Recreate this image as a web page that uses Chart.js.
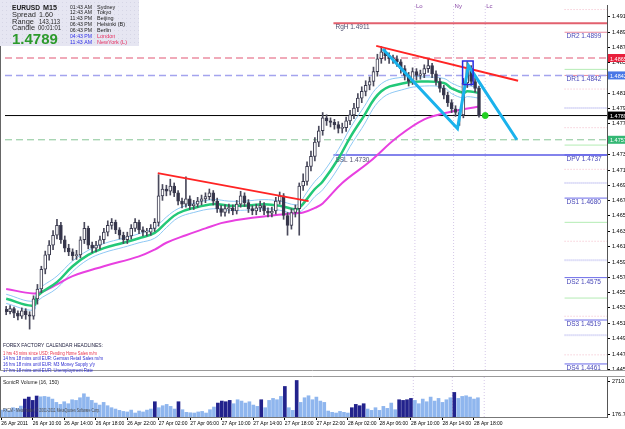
<!DOCTYPE html>
<html>
<head>
<meta charset="utf-8">
<script src="https://cdn.jsdelivr.net/npm/chart.js@4"></script>
<style>
html, body { margin: 0; padding: 0; background: #fff; overflow: hidden; }
#wrap { position: relative; width: 625px; height: 429px; }
canvas { position: absolute; left: 0; }
#main { top: 0; }
#vol { top: 375px; }
</style>
</head>
<body>
<div id="wrap">
  <canvas id="main" width="625" height="375"></canvas>
  <canvas id="vol" width="625" height="54"></canvas>
</div>
<script>
// EURUSD M15, one candle per 30 min slot
let opens = [1.4533,1.4530,1.4534,1.4528,1.4524,1.4531,1.4526,1.4524,1.4547,1.4560,
1.4586,1.4605,1.4618,1.4631,1.4644,1.4625,1.4614,1.4609,1.4604,1.4605,
1.4625,1.4640,1.4618,1.4614,1.4618,1.4625,1.4635,1.4644,1.4648,1.4638,
1.4631,1.4625,1.4630,1.4640,1.4648,1.4638,1.4635,1.4635,1.4640,1.4648,
1.4683,1.4692,1.4689,1.4696,1.4687,1.4676,1.4672,1.4679,1.4670,1.4672,
1.4676,1.4679,1.4682,1.4687,1.4676,1.4666,1.4661,1.4666,1.4667,1.4663,
1.4672,1.4683,1.4674,1.4666,1.4663,1.4667,1.4670,1.4663,1.4660,1.4663,
1.4676,1.4683,1.4657,1.4644,1.4661,1.4666,1.4696,1.4702,1.4722,1.4735,
1.4754,1.4769,1.4786,1.4782,1.4780,1.4777,1.4772,1.4773,1.4782,1.4790,
1.4799,1.4812,1.4821,1.4829,1.4834,1.4847,1.4864,1.4873,1.4868,1.4864,
1.4864,1.4860,1.4851,1.4842,1.4834,1.4847,1.4842,1.4844,1.4851,1.4855,
1.4844,1.4834,1.4825,1.4816,1.4806,1.4798,1.4793,1.4790,1.4832,1.4851,
1.4834,1.4825];
let closes = [1.4530,1.4534,1.4528,1.4524,1.4531,1.4526,1.4524,1.4547,1.4560,1.4586,
1.4605,1.4618,1.4631,1.4644,1.4625,1.4614,1.4609,1.4604,1.4605,1.4625,
1.4640,1.4618,1.4614,1.4618,1.4625,1.4635,1.4644,1.4648,1.4638,1.4631,
1.4625,1.4630,1.4640,1.4648,1.4638,1.4635,1.4635,1.4640,1.4648,1.4683,
1.4692,1.4689,1.4696,1.4687,1.4676,1.4672,1.4679,1.4670,1.4672,1.4676,
1.4679,1.4682,1.4687,1.4676,1.4666,1.4661,1.4666,1.4667,1.4663,1.4672,
1.4683,1.4674,1.4666,1.4663,1.4667,1.4670,1.4663,1.4660,1.4663,1.4676,
1.4683,1.4657,1.4644,1.4661,1.4666,1.4696,1.4702,1.4722,1.4735,1.4754,
1.4769,1.4786,1.4782,1.4780,1.4777,1.4772,1.4773,1.4782,1.4790,1.4799,
1.4812,1.4821,1.4829,1.4834,1.4847,1.4864,1.4873,1.4868,1.4864,1.4864,
1.4860,1.4851,1.4842,1.4834,1.4847,1.4842,1.4844,1.4851,1.4855,1.4844,
1.4834,1.4825,1.4816,1.4806,1.4798,1.4793,1.4790,1.4832,1.4851,1.4834,
1.4825,1.4789];
let highs = [1.4537,1.4538,1.4536,1.4531,1.4535,1.4534,1.4530,1.4551,1.4566,1.4590,
1.4610,1.4624,1.4637,1.4652,1.4648,1.4630,1.4619,1.4613,1.4611,1.4629,
1.4648,1.4643,1.4622,1.4623,1.4630,1.4640,1.4650,1.4653,1.4651,1.4641,
1.4635,1.4635,1.4645,1.4653,1.4651,1.4642,1.4640,1.4645,1.4653,1.4711,
1.4698,1.4697,1.4705,1.4700,1.4690,1.4680,1.4708,1.4683,1.4677,1.4681,
1.4684,1.4687,1.4692,1.4690,1.4680,1.4670,1.4671,1.4672,1.4671,1.4677,
1.4689,1.4687,1.4678,1.4670,1.4672,1.4676,1.4674,1.4667,1.4668,1.4681,
1.4688,1.4686,1.4661,1.4666,1.4671,1.4700,1.4712,1.4728,1.4742,1.4760,
1.4775,1.4793,1.4790,1.4786,1.4784,1.4781,1.4779,1.4787,1.4796,1.4805,
1.4818,1.4827,1.4835,1.4840,1.4853,1.4870,1.4880,1.4876,1.4872,1.4869,
1.4868,1.4863,1.4855,1.4846,1.4852,1.4851,1.4849,1.4856,1.4864,1.4858,
1.4848,1.4838,1.4829,1.4820,1.4810,1.4802,1.4797,1.4838,1.4860,1.4855,
1.4839,1.4828];
let lows = [1.4526,1.4527,1.4522,1.4519,1.4521,1.4520,1.4507,1.4520,1.4540,1.4555,
1.4580,1.4598,1.4612,1.4626,1.4620,1.4609,1.4604,1.4598,1.4599,1.4601,
1.4620,1.4613,1.4608,1.4609,1.4613,1.4620,1.4630,1.4639,1.4633,1.4626,
1.4620,1.4620,1.4626,1.4636,1.4633,1.4630,1.4630,1.4631,1.4636,1.4643,
1.4677,1.4683,1.4684,1.4682,1.4671,1.4667,1.4668,1.4665,1.4665,1.4668,
1.4671,1.4674,1.4678,1.4671,1.4661,1.4656,1.4656,1.4660,1.4658,1.4659,
1.4668,1.4669,1.4661,1.4658,1.4658,1.4662,1.4658,1.4655,1.4655,1.4659,
1.4672,1.4652,1.4631,1.4639,1.4655,1.4631,1.4690,1.4697,1.4716,1.4729,
1.4748,1.4763,1.4776,1.4774,1.4771,1.4766,1.4766,1.4768,1.4777,1.4785,
1.4794,1.4806,1.4815,1.4823,1.4828,1.4841,1.4858,1.4862,1.4858,1.4858,
1.4854,1.4845,1.4836,1.4828,1.4830,1.4836,1.4837,1.4839,1.4846,1.4839,
1.4829,1.4820,1.4811,1.4801,1.4793,1.4788,1.4776,1.4786,1.4826,1.4829,
1.4820,1.4787];
let volumes = [520,610,480,700,650,820,1350,1500,1250,1580,
1520,1550,1500,1350,1100,950,1150,1000,1300,1250,
1450,1750,1500,1250,1050,900,1100,850,700,600,
500,420,380,520,300,450,380,520,600,1150,
700,850,950,800,600,1150,550,350,320,300,
380,420,300,550,750,1050,1200,1150,1250,1000,
1300,1200,1050,1150,900,800,1300,700,1250,1400,
1300,1550,2300,700,500,2750,1100,1450,1600,1300,
1500,1200,1100,450,350,300,420,350,300,700,
950,850,1000,600,500,700,500,800,650,1050,
550,1300,1250,1300,1400,1250,1000,1350,1150,1500,
1200,1400,1100,1300,1450,1850,1400,1550,1600,1500,
1350,1450];
let climaxBars = [6,7,8,9,39,45,55,56,57,58,66,72,75,89,90,91,92,101,102,103,104,115];

// SonicR dragon (EMA 34) with its band, and the slow EMA
let dragonIdx = [0,7,8,13,17,21,25,30,34,38,41,44,48,53,57,61,66,70,74,75,77,79,81,85,88,91,96,102,107,112,114,117,118,121];
let dragonMid = [1.4547,1.4538,1.4551,1.4569,1.4590,1.4605,1.4614,1.4621,1.4627,1.4634,1.4648,1.4660,1.4667,1.4672,1.4670,1.4670,1.4672,1.4670,1.4665,1.4667,1.4679,1.4692,1.4702,1.4732,1.4760,1.4784,1.4821,1.4832,1.4834,1.4832,1.4825,1.4819,1.4821,1.4819];
let dragonHigh = [1.4553,1.4544,1.4558,1.4577,1.4597,1.4611,1.4620,1.4627,1.4633,1.4641,1.4655,1.4666,1.4673,1.4678,1.4676,1.4676,1.4678,1.4676,1.4671,1.4673,1.4688,1.4702,1.4713,1.4744,1.4772,1.4796,1.4831,1.4840,1.4840,1.4838,1.4832,1.4826,1.4828,1.4826];
let dragonLow = [1.4541,1.4532,1.4544,1.4561,1.4583,1.4599,1.4608,1.4615,1.4621,1.4627,1.4641,1.4654,1.4661,1.4666,1.4664,1.4664,1.4666,1.4664,1.4659,1.4661,1.4670,1.4682,1.4691,1.4720,1.4748,1.4772,1.4811,1.4824,1.4828,1.4826,1.4818,1.4812,1.4814,1.4812];
let slowIdx = [0,7,9,13,17,25,34,38,41,46,51,55,59,63,68,74,76,79,81,86,93,100,107,113,121];
let slowEma = [1.4560,1.4554,1.4556,1.4566,1.4577,1.4590,1.4603,1.4612,1.4621,1.4631,1.4640,1.4647,1.4651,1.4654,1.4657,1.4660,1.4661,1.4667,1.4673,1.4700,1.4728,1.4760,1.4784,1.4793,1.4801];

// drawn objects
let trend1 = [[38.8, 1.4713], [77.4, 1.4676]];
let trend2 = [[94.7, 1.4881], [131.0, 1.4835]];
let zigzag = [[96.4, 1.4877], [115.5, 1.4772], [118.3, 1.4855], [130.7, 1.4757]];
let boxIdx = [116.8, 119.5];
let boxPrice = [1.4830, 1.4861];

// levels
let bidPrice = 1.4789;
let dashedLevels = [1.4865, 1.4842, 1.4757];
let r1h = 1.4911;
let ssl = 1.4730;
let pivotNames = ['DR2', 'DR1', 'DPV', 'DS1', 'DS2', 'DS3', 'DS4'];
let pivotValues = [1.4899, 1.4842, 1.4737, 1.4680, 1.4575, 1.4519, 1.4461];
let midPink = [1.4929, 1.4824, 1.4773, 1.4718, 1.4623, 1.4524, 1.4473];
let midLav = [1.4799, 1.4700, 1.4598, 1.4499];
let midGreen = [1.4850, 1.4750, 1.4648, 1.4548];
let sessionIdx = [104.6, 114.5, 122.6];
let sessionNames = ['Lo', 'Ny', 'Lc'];

// axes
let yTicks = [1.49195,1.48990,1.48795,1.48590,1.48390,1.48185,1.47980,1.47780,1.47575,1.47370,1.47170,1.46970,
  1.46765,1.46565,1.46360,1.46160,1.45955,1.45755,1.45550,1.45350,1.45145,1.44945,1.44740,1.44540];
let xTickIdx = [0,8,16,24,32,40,48,56,64,72,80,88,96,104,112,120];
let xTickLabels = ['26 Apr 2011','26 Apr 10:00','26 Apr 14:00','26 Apr 18:00','26 Apr 22:00','27 Apr 02:00',
  '27 Apr 06:00','27 Apr 10:00','27 Apr 14:00','27 Apr 18:00','27 Apr 22:00','28 Apr 02:00','28 Apr 06:00',
  '28 Apr 10:00','28 Apr 14:00','28 Apr 18:00'];
let volTicks = [176.7, 2710.7];

let headlines = [
  ['1 hrs 43 mins since USD: Pending Home Sales m/m', '#e8304a'],
  ['14 hrs 18 mins until EUR: German Retail Sales m/m', '#2a2ad0'],
  ['16 hrs 18 mins until EUR: M3 Money Supply y/y', '#2a2ad0'],
  ['17 hrs 18 mins until EUR: Unemployment Rate', '#2a2ad0']
];
let clocks = [
  ['01:43 AM', 'Sydney'], ['12:43 AM', 'Tokyo'], ['11:43 PM', 'Beijing'], ['06:43 PM', 'Helsinki (B)'],
  ['06:43 PM', 'Berlin'], ['04:43 PM', 'London'], ['11:43 AM', 'NewYork (L)']
];

const X_MIN = -0.3, X_MAX = 153.76;
const DAY_START = 83.75, PIV_START = 142.9;
const FONT = "'Liberation Sans', Arial, sans-serif";

function hline(y, x0, x1, color, width, dash, order) {
  return { type: 'line', data: [{x: x0, y: y}, {x: x1, y: y}], borderColor: color, borderWidth: width,
    borderDash: dash || [], pointRadius: 0, order: order };
}
function poly(points, color, width, order) {
  return { type: 'line', data: points.map(p => ({x: p[0], y: p[1]})), borderColor: color, borderWidth: width,
    pointRadius: 0, tension: 0, order: order };
}
function txt(ctx, s, x, y, font, color, maxW) {
  ctx.font = font;
  ctx.fillStyle = color;
  if (maxW) ctx.fillText(s, x, y, maxW); else ctx.fillText(s, x, y);
}

function mainChart() {
  let ctx = document.getElementById('main').getContext('2d');
  let idx = opens.map((o, i) => i);
  let datasets = [];

  // levels, bottom-most
  datasets.push(hline(bidPrice, X_MIN, X_MAX, '#000000', 1, [], 60));
  datasets.push(hline(dashedLevels[0], X_MIN, X_MAX, '#eb8fa2', 1.5, [7, 4], 60));
  datasets.push(hline(dashedLevels[1], X_MIN, X_MAX, '#a4a4ee', 1.5, [7, 4], 60));
  datasets.push(hline(dashedLevels[2], X_MIN, X_MAX, '#86c596', 1, [7, 4], 60));
  datasets.push(hline(r1h, DAY_START, X_MAX, '#e2606e', 2, [], 60));
  datasets.push(hline(pivotValues[2], DAY_START, X_MAX, '#5a5ae6', 1.5, [], 60));
  pivotValues.forEach(v => datasets.push(hline(v, PIV_START, X_MAX, v > 1.4740 ? '#e98aa0' : '#6a6ae8', 1, [], 60)));
  midPink.forEach(v => datasets.push(hline(v, PIV_START, X_MAX, '#f2b8c6', 1, [1, 2], 60)));
  midLav.forEach(v => datasets.push(hline(v, PIV_START, X_MAX, '#c6c6f2', 2, [1, 1], 60)));
  midGreen.forEach(v => datasets.push(hline(v, PIV_START, X_MAX, '#b4ecb4', 1, [], 60)));
  sessionIdx.forEach(x => datasets.push({ type: 'line', data: [{x: x, y: 1.4453}, {x: x, y: 1.4935}],
    borderColor: '#d4c8e8', borderWidth: 1, borderDash: [1, 2], pointRadius: 0, order: 61 }));

  // moving averages
  datasets.push({ type: 'line', data: slowIdx.map((x, i) => ({x: x, y: slowEma[i]})), borderColor: '#e840e0',
    borderWidth: 2, pointRadius: 0, tension: 0.4, order: 40 });
  datasets.push({ type: 'line', data: dragonIdx.map((x, i) => ({x: x, y: dragonHigh[i]})), borderColor: '#8ec8f4',
    borderWidth: 1, pointRadius: 0, tension: 0.4, order: 40 });
  datasets.push({ type: 'line', data: dragonIdx.map((x, i) => ({x: x, y: dragonLow[i]})), borderColor: '#8ec8f4',
    borderWidth: 1, pointRadius: 0, tension: 0.4, order: 40 });
  datasets.push({ type: 'line', data: dragonIdx.map((x, i) => ({x: x, y: dragonMid[i]})), borderColor: '#22c878',
    borderWidth: 2.5, pointRadius: 0, tension: 0.4, order: 39 });

  // candles
  datasets.push({ type: 'bar', data: idx.map(i => ({x: i, y: [lows[i], highs[i]]})), backgroundColor: '#4a4a5c',
    barThickness: 1, grouped: false, order: 31 });
  datasets.push({ type: 'bar', data: idx.map(i => ({x: i, y: [opens[i], closes[i]]})),
    backgroundColor: idx.map(i => closes[i] >= opens[i] ? '#ffffff' : '#34344a'),
    borderColor: '#3a3a4e', borderWidth: 1, borderSkipped: false, barThickness: 3, minBarLength: 1,
    grouped: false, order: 30 });

  // drawn objects
  datasets.push(poly(trend1, '#ff2424', 2, 10));
  datasets.push(poly(trend2, '#ff2424', 2, 10));
  datasets.push(poly(zigzag, '#1ab2ec', 3, 9));
  datasets.push(poly([[boxIdx[0], boxPrice[0]], [boxIdx[1], boxPrice[0]], [boxIdx[1], boxPrice[1]],
    [boxIdx[0], boxPrice[1]], [boxIdx[0], boxPrice[0]]], '#2a2ae0', 1.5, 8));
  datasets.push({ type: 'line', data: [{x: sessionIdx[2], y: bidPrice}], pointRadius: 3, pointBackgroundColor: '#22d022',
    pointBorderColor: '#22d022', showLine: false, order: 1 });

  new Chart(ctx, {
    data: { datasets: datasets },
    options: {
      responsive: false,
      animation: false,
      devicePixelRatio: 1,
      layout: { padding: { left: 0, right: 0, top: 0, bottom: 2 } },
      scales: {
        x: { type: 'linear', display: false, min: X_MIN, max: X_MAX, offset: false, grid: { offset: false } },
        y: {
          position: 'right', min: 1.4453, max: 1.4935,
          afterBuildTicks: s => { s.ticks = yTicks.map(v => ({value: v})); },
          afterFit: s => { s.width = 18; s.paddingTop = 0; s.paddingBottom = 0; },
          ticks: { autoSkip: false, padding: 2, color: '#000', font: { family: FONT, size: 5.5 },
            callback: v => v.toFixed(5) },
          grid: { drawOnChartArea: false, tickLength: 3, color: '#000' },
          border: { display: true, color: '#555' }
        }
      },
      plugins: { legend: { display: false }, tooltip: { enabled: false } }
    },
    plugins: [{
      id: 'mainText',
      afterDraw: (chart) => {
        const c = chart.ctx, xs = chart.scales.x, ys = chart.scales.y, a = chart.chartArea;
        c.save();
        c.textBaseline = 'alphabetic';
        // frame
        c.strokeStyle = '#666';
        c.lineWidth = 1;
        c.beginPath(); c.moveTo(0.5, 0); c.lineTo(0.5, a.bottom); c.stroke();
        c.strokeStyle = '#9a9a9a';
        c.beginPath(); c.moveTo(0, a.bottom + 0.5); c.lineTo(625, a.bottom + 0.5); c.stroke();

        // pivot labels
        pivotNames.forEach((n, i) => {
          let y = ys.getPixelForValue(pivotValues[i]) + 6;
          txt(c, n + ' ' + pivotValues[i].toFixed(4), xs.getPixelForValue(PIV_START) + 2, y,
            '6.5px ' + FONT, '#4848b8', 38);
        });
        txt(c, 'RgH ' + r1h.toFixed(4), xs.getPixelForValue(DAY_START) + 2, ys.getPixelForValue(r1h) + 6,
          '6.5px ' + FONT, '#505070', 36);
        txt(c, 'SSL ' + ssl.toFixed(4), xs.getPixelForValue(DAY_START) + 2, ys.getPixelForValue(pivotValues[2]) + 7,
          '6.5px ' + FONT, '#505070', 36);
        sessionNames.forEach((n, i) => {
          txt(c, n, xs.getPixelForValue(sessionIdx[i]) + 1, 8, '6px ' + FONT, '#8a4aa8');
        });

        // price boxes on the axis
        [[dashedLevels[0], '#e8203c'], [dashedLevels[1], '#4a78e6'], [bidPrice, '#000000'], [dashedLevels[2], '#34b874']]
          .forEach(b => {
            let y = ys.getPixelForValue(b[0]);
            c.fillStyle = b[1];
            c.fillRect(a.right + 1, y - 4, 20, 8);
            txt(c, b[0].toFixed(4), a.right + 3, y + 2.5, '5.5px ' + FONT, '#ffffff');
          });

        // info panel
        c.fillStyle = '#e6e6f2';
        c.fillRect(0, 0, 139, 46);
        c.fillStyle = '#d6d6e6';
        for (let px = 2; px < 139; px += 4) for (let py = 2; py < 46; py += 4) c.fillRect(px, py, 1, 1);
        txt(c, 'EURUSD', 12, 9.5, 'bold 8px ' + FONT, '#1a1a1a', 28);
        txt(c, 'M15', 43, 9.5, 'bold 8px ' + FONT, '#1a1a1a', 14);
        txt(c, 'Spread', 12, 17, '8px ' + FONT, '#2a2a2a', 24);
        txt(c, '1.60', 39, 17, '8px ' + FONT, '#2a2a2a', 14);
        txt(c, 'Range', 12, 23.5, '8px ' + FONT, '#2a2a2a', 22);
        txt(c, '143,113', 39, 23.5, '8px ' + FONT, '#2a2a2a', 21);
        txt(c, 'Candle', 12, 29.5, '8px ' + FONT, '#2a2a2a', 23);
        txt(c, '00:01:01', 38, 29.5, '8px ' + FONT, '#2a2a2a', 23);
        txt(c, bidPrice.toFixed(4), 12, 44, 'bold 15px ' + FONT, '#2c9a2c', 46);
        clocks.forEach((r, i) => {
          let y = 8.5 + i * 5.95;
          let late = i >= 5;
          txt(c, r[0], 70, y, '5.5px ' + FONT, late ? '#3030e8' : '#202020', 22);
          txt(c, r[1], 97, y, '5.5px ' + FONT, late ? '#e83060' : '#202020', 30);
        });

        // calendar headlines
        txt(c, 'FOREX FACTORY CALENDAR HEADLINES:', 3, 347, '6px ' + FONT, '#202040', 100);
        headlines.forEach((h, i) => {
          txt(c, h[0], 3, 354.5 + i * 5.7, '5.5px ' + FONT, h[1], [94, 100, 92, 90][i]);
        });
        c.restore();
      }
    }]
  });
}

function volumeChart() {
  let ctx = document.getElementById('vol').getContext('2d');
  let idx = volumes.map((v, i) => i);
  let datasets = [];
  sessionIdx.forEach(x => datasets.push({ type: 'line', data: [{x: x, y: 0}, {x: x, y: 3012}],
    borderColor: '#d4c8e8', borderWidth: 1, borderDash: [1, 2], pointRadius: 0, order: 20 }));
  datasets.push({ type: 'bar', data: idx.map(i => ({x: i, y: volumes[i]})),
    backgroundColor: idx.map(i => climaxBars.includes(i) ? '#22228c' : '#8fb6ee'),
    barThickness: 3, grouped: false, order: 1 });

  new Chart(ctx, {
    data: { datasets: datasets },
    options: {
      responsive: false,
      animation: false,
      devicePixelRatio: 1,
      layout: { padding: { left: 0, right: 0, top: 2, bottom: 0 } },
      scales: {
        x: {
          type: 'linear', min: X_MIN, max: X_MAX, offset: false,
          afterBuildTicks: s => { s.ticks = xTickIdx.map(v => ({value: v})); },
          afterFit: s => { s.height = 12; s.paddingLeft = 0; s.paddingRight = 0; },
          ticks: { autoSkip: false, maxRotation: 0, align: 'start', padding: 1, color: '#000',
            font: { family: FONT, size: 5 }, callback: (v, i) => xTickLabels[i] },
          grid: { drawOnChartArea: false, tickLength: 3, color: '#000', offset: false },
          border: { display: true, color: '#777' }
        },
        y: {
          position: 'right', min: 0, max: 3012,
          afterBuildTicks: s => { s.ticks = volTicks.map(v => ({value: v})); },
          afterFit: s => { s.width = 18; s.paddingTop = 0; s.paddingBottom = 0; },
          ticks: { autoSkip: false, padding: 2, color: '#000', font: { family: FONT, size: 5.5 },
            callback: v => v.toFixed(1) },
          grid: { drawOnChartArea: false, tickLength: 3, color: '#000' },
          border: { display: true, color: '#555' }
        }
      },
      plugins: { legend: { display: false }, tooltip: { enabled: false } }
    },
    plugins: [{
      id: 'volText',
      afterDraw: (chart) => {
        const c = chart.ctx, a = chart.chartArea;
        c.save();
        c.strokeStyle = '#9a9a9a';
        c.lineWidth = 1;
        c.beginPath(); c.moveTo(0, a.top - 0.5); c.lineTo(625, a.top - 0.5); c.stroke();
        c.strokeStyle = '#666';
        c.beginPath(); c.moveTo(0.5, a.top); c.lineTo(0.5, a.bottom); c.stroke();
        txt(c, 'SonicR Volume (16, 150)', 3, 9, '6px ' + FONT, '#202020', 56);
        txt(c, 'FXCM - MetaTrader, \u00a9 2001-2011 MetaQuotes Software Corp.', 3, 36.5, '5px ' + FONT, '#4a4a4a', 97);
        c.restore();
      }
    }]
  });
}

mainChart();
volumeChart();
</script>
</body>
</html>
